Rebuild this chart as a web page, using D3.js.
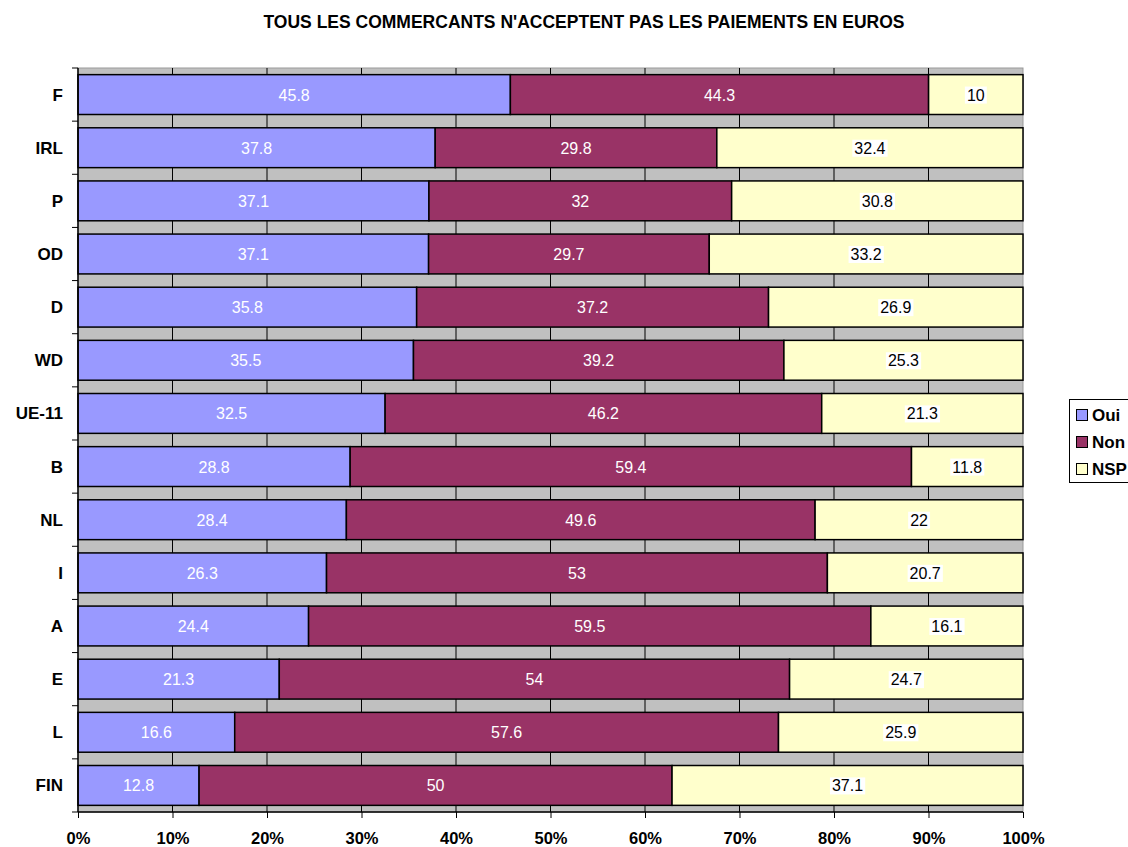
<!DOCTYPE html>
<html>
<head>
<meta charset="utf-8">
<script src="https://cdn.jsdelivr.net/npm/d3@7"></script>
<style>
  body { margin: 0; background: #fff; }
  text { font-family: "Liberation Sans", Arial, sans-serif; }
</style>
</head>
<body>
<div id="chart"></div>
<script>
var categories = ["F", "IRL", "P", "OD", "D", "WD", "UE-11", "B", "NL", "I", "A", "E", "L", "FIN"];
var oui = [45.8, 37.8, 37.1, 37.1, 35.8, 35.5, 32.5, 28.8, 28.4, 26.3, 24.4, 21.3, 16.6, 12.8];
var non = [44.3, 29.8, 32, 29.7, 37.2, 39.2, 46.2, 59.4, 49.6, 53, 59.5, 54, 57.6, 50];
var nsp = [10, 32.4, 30.8, 33.2, 26.9, 25.3, 21.3, 11.8, 22, 20.7, 16.1, 24.7, 25.9, 37.1];
var seriesNames = ["Oui", "Non", "NSP"];
var seriesColors = ["#9999ff", "#993366", "#ffffcc"];
var labelColors = ["#ffffff", "#ffffff", "#000000"];
var xTicks = [0, 0.1, 0.2, 0.3, 0.4, 0.5, 0.6, 0.7, 0.8, 0.9, 1];

var width = 1128, height = 847;
var plotLeft = 78, plotRight = 1023, plotTop = 68, plotBottom = 812;

var svg = d3.select("#chart").append("svg")
    .attr("width", width)
    .attr("height", height);

var rows = categories.map(function(c, i) {
  return { cat: c, Oui: oui[i], Non: non[i], NSP: nsp[i] };
});

var stack = d3.stack().keys(seriesNames).offset(d3.stackOffsetExpand);
var layers = stack(rows);

var x = d3.scaleLinear().domain([0, 1]).range([plotLeft, plotRight]);
var y = d3.scaleBand().domain(categories).range([plotTop, plotBottom])
    .paddingInner(0.25).paddingOuter(0.125);

// title
svg.append("text")
    .attr("x", 584)
    .attr("y", 28)
    .attr("text-anchor", "middle")
    .attr("font-size", 17.5)
    .attr("font-weight", "bold")
    .text("TOUS LES COMMERCANTS N'ACCEPTENT PAS LES PAIEMENTS EN EUROS");

// plot background
svg.append("rect")
    .attr("x", plotLeft).attr("y", plotTop)
    .attr("width", plotRight - plotLeft).attr("height", plotBottom - plotTop)
    .attr("fill", "#c0c0c0")
    .attr("stroke", "#9a9a9a");

// vertical grid lines
svg.append("g").selectAll("line")
    .data(xTicks.slice(1, -1))
    .enter().append("line")
    .attr("x1", function(d) { return x(d); })
    .attr("x2", function(d) { return x(d); })
    .attr("y1", plotTop).attr("y2", plotBottom)
    .attr("stroke", "#000")
    .attr("stroke-width", 1);

// bars
var layerG = svg.append("g").selectAll("g")
    .data(layers)
    .enter().append("g")
    .attr("fill", function(d, i) { return seriesColors[i]; });

layerG.selectAll("rect")
    .data(function(d) { return d; })
    .enter().append("rect")
    .attr("x", function(d) { return x(d[0]); })
    .attr("y", function(d) { return y(d.data.cat); })
    .attr("width", function(d) { return x(d[1]) - x(d[0]); })
    .attr("height", y.bandwidth())
    .attr("stroke", "#000")
    .attr("stroke-width", 1.5);

// value labels
layers.forEach(function(layer, si) {
  var g = svg.append("g");
  layer.forEach(function(d) {
    var cx = (x(d[0]) + x(d[1])) / 2;
    var cy = y(d.data.cat) + y.bandwidth() / 2;
    var val = d.data[layer.key];
    var t = g.append("text")
        .attr("x", cx)
        .attr("y", cy + 6)
        .attr("text-anchor", "middle")
        .attr("font-size", 16)
        .attr("fill", labelColors[si])
        .text(val);
    if (si === 2) {
      var bb = t.node().getBBox();
      g.insert("rect", function() { return t.node(); })
          .attr("x", bb.x - 2)
          .attr("y", bb.y)
          .attr("width", bb.width + 4)
          .attr("height", bb.height)
          .attr("fill", "#fff");
    }
  });
});

// left axis
svg.append("line")
    .attr("x1", plotLeft).attr("x2", plotLeft)
    .attr("y1", plotTop).attr("y2", plotBottom)
    .attr("stroke", "#000").attr("stroke-width", 1.5);

var step = y.step();
var boundaries = d3.range(categories.length + 1).map(function(i) { return plotTop + i * step; });
svg.append("g").selectAll("line")
    .data(boundaries)
    .enter().append("line")
    .attr("x1", plotLeft - 6).attr("x2", plotLeft)
    .attr("y1", function(d) { return d; })
    .attr("y2", function(d) { return d; })
    .attr("stroke", "#000");

svg.append("g").selectAll("text")
    .data(categories)
    .enter().append("text")
    .attr("x", 63)
    .attr("y", function(d) { return y(d) + y.bandwidth() / 2 + 6; })
    .attr("text-anchor", "end")
    .attr("font-size", 17)
    .attr("font-weight", "bold")
    .text(function(d) { return d; });

// bottom axis
var xAxis = d3.axisBottom(x)
    .tickValues(xTicks)
    .tickSize(6)
    .tickFormat(d3.format(".0%"));

var axG = svg.append("g")
    .attr("transform", "translate(0," + plotBottom + ")")
    .call(xAxis);
axG.select(".domain").attr("stroke", "#000").attr("stroke-width", 1.5)
    .attr("d", "M" + plotLeft + ",0H" + plotRight);
axG.selectAll(".tick line").attr("stroke", "#000");
axG.selectAll(".tick text")
    .attr("y", 32)
    .attr("dy", null)
    .attr("font-size", 16.5)
    .attr("font-weight", "bold")
    .attr("font-family", "Liberation Sans, Arial, sans-serif")
    .attr("fill", "#000");

// legend
var lg = svg.append("g");
lg.append("rect")
    .attr("x", 1069.5).attr("y", 399.5)
    .attr("width", 70).attr("height", 83)
    .attr("fill", "#fff")
    .attr("stroke", "#000");

seriesNames.forEach(function(name, i) {
  var cy = 415 + i * 27;
  lg.append("rect")
      .attr("x", 1076.5).attr("y", cy - 5.5)
      .attr("width", 11).attr("height", 11)
      .attr("fill", seriesColors[i])
      .attr("stroke", "#000");
  lg.append("text")
      .attr("x", 1092)
      .attr("y", cy + 6)
      .attr("font-size", 17)
      .attr("font-weight", "bold")
      .text(name);
});
</script>
</body>
</html>
